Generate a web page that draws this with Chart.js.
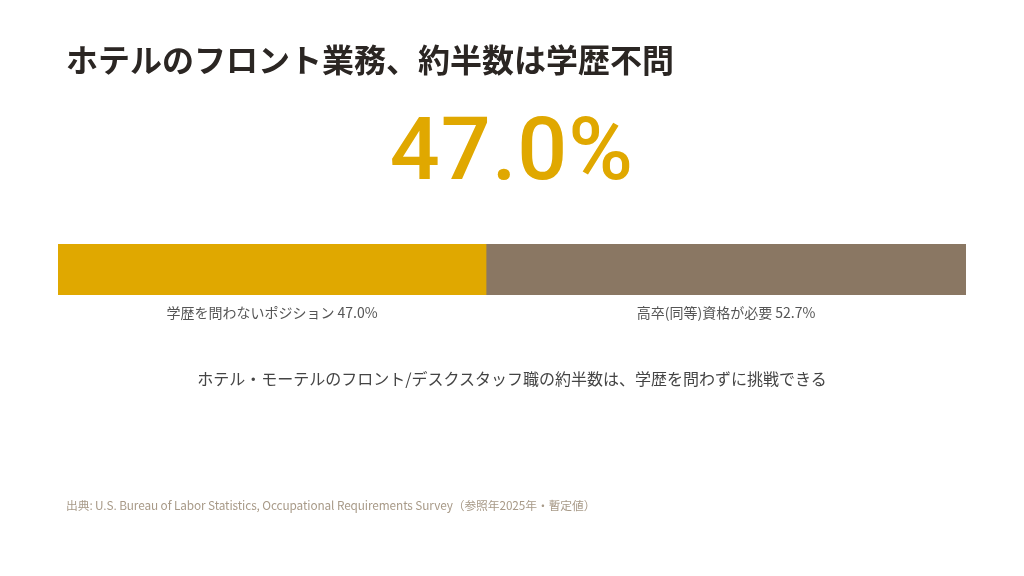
<!DOCTYPE html>
<html lang="ja">
<head>
<meta charset="utf-8">
<script src="https://cdn.jsdelivr.net/npm/chart.js@4"></script>
<style>
  html, body { margin: 0; padding: 0; background: #fff; }
  body { width: 1024px; height: 576px; position: relative; overflow: hidden;
         font-family: "Noto Sans CJK JP", "Noto Sans", sans-serif; }
  #wrap { position: absolute; left: 0; top: 0; width: 1024px; height: 576px; }
  .txt { position: absolute; white-space: nowrap; line-height: 1; }
  #title { left: 66px; top: 42px; font-size: 32px; font-weight: 700; color: #2b2623; }
  #big { left: 0; width: 1024px; text-align: center; top: 105px; font-family: Roboto, sans-serif;
         font-size: 88px; font-weight: 500; color: #e0a800; letter-spacing: 1px; }
  #sub { left: 0; width: 1024px; text-align: center; top: 370px; font-size: 16px; color: #444; }
  #note { left: 66px; top: 499px; font-size: 11.8px; color: #a89a88; letter-spacing: -0.1px; }
  .seg { position: absolute; top: 305px; font-size: 14px; color: #555; white-space: nowrap;
         line-height: 1; transform: translateX(-50%); }
</style>
</head>
<body>
<div id="wrap"><canvas id="barChart" width="1024" height="576"></canvas></div>
<div class="txt" id="title">ホテルのフロント業務、約半数は学歴不問</div>
<div class="txt" id="big">47.0%</div>
<div class="txt" id="sub">ホテル・モーテルのフロント/デスクスタッフ職の約半数は、学歴を問わずに挑戦できる</div>
<div class="txt" id="note">出典: U.S. Bureau of Labor Statistics, Occupational Requirements Survey（参照年2025年・暫定値）</div>
<script>
// data
const categories = ['ホテル・モーテル フロント/デスク']
const segmentNames = ['学歴を問わないポジション', '高卒(同等)資格が必要']
const segmentValues = [47.0, 52.7]
const segmentColors = ['#e0a800', '#8a7763']

const total = segmentValues.reduce((a, b) => a + b, 0)

// labels under each segment, placed from the x scale
const segmentLabels = {
    id: 'segmentLabels',
    afterRender(chart) {
        document.querySelectorAll('.seg').forEach(el => el.remove())
        const xs = chart.scales.x
        let start = 0
        segmentValues.forEach((v, i) => {
            const mid = xs.getPixelForValue(start + v / 2)
            const el = document.createElement('div')
            el.className = 'seg'
            el.style.left = mid + 'px'
            el.textContent = segmentNames[i] + ' ' + v.toFixed(1) + '%'
            document.body.appendChild(el)
            start += v
        })
    }
}

let ctx = document.getElementById('barChart').getContext('2d')

let shareChart = new Chart(ctx, {
    type: 'bar',
    data: {
        labels: categories,
        datasets: segmentValues.map((v, i) => ({
            label: segmentNames[i],
            data: [v],
            backgroundColor: segmentColors[i],
            borderWidth: 0,
            barPercentage: 1,
            categoryPercentage: 1
        }))
    },
    options: {
        indexAxis: 'y',
        responsive: false,
        animation: false,
        layout: { padding: { left: 58, right: 58, top: 244, bottom: 281 } },
        scales: {
            x: { stacked: true, min: 0, max: total, display: false },
            y: { stacked: true, display: false }
        },
        plugins: {
            legend: { display: false },
            tooltip: { enabled: false }
        }
    },
    plugins: [segmentLabels]
})
</script>
</body>
</html>
